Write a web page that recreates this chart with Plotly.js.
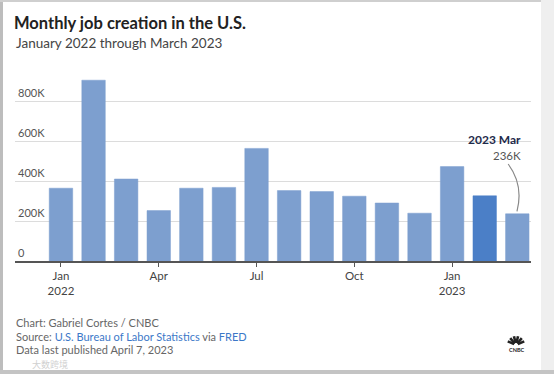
<!DOCTYPE html>
<html><head><meta charset="utf-8">
<script src="https://cdn.plot.ly/plotly-3.0.1.min.js"></script>
<style>html,body{margin:0;padding:0;background:#fff;}#c{width:554px;height:374px;}</style>
</head><body><div id="c"></div>
<script>
var months = ["Jan 2022","Feb 2022","Mar 2022","Apr 2022","May 2022","Jun 2022","Jul 2022","Aug 2022","Sep 2022","Oct 2022","Nov 2022","Dec 2022","Jan 2023","Feb 2023","Mar 2023"];
var jobs = [364000, 904000, 410000, 252000, 364000, 368000, 563000, 352000, 347000, 324000, 290000, 239000, 472000, 326000, 236000];
var tickIdx = [0, 3, 6, 9, 12];
var tickText = ["Jan<br>2022", "Apr", "Jul", "Oct", "Jan<br>2023"];
var yTicks = [0, 200000, 400000, 600000, 800000];
var yTickText = ["0", "200K", "400K", "600K", "800K"];
var highlightIdx = 13;

var W = 554, H = 374, L = 15, R = 531, T = 71, B = 261;
function px(x){ return (x - L) / (R - L); }
function py(y){ return (B - y) / (B - T); }

var xs = months.map(function(m, i){ return i; });
var colors = months.map(function(m, i){ return i === highlightIdx ? "#4b7fc7" : "#7d9fcf"; });
var last = jobs.length - 1;

var data = [{
  type: "bar", x: xs, y: jobs, marker: {color: colors, line: {color: colors, width: 0.5}},
  width: 0.72, hoverinfo: "skip"
}];

var ann = [
  {text: "January 2022 through March 2023", xref: "paper", yref: "paper", x: px(14), y: py(43), xanchor: "left", yanchor: "middle", showarrow: false, font: {family: "Lato", size: 13.5, color: "#444"}},
  {text: "Chart: Gabriel Cortes / CNBC", xref: "paper", yref: "paper", x: px(14), y: py(322), xanchor: "left", yanchor: "middle", showarrow: false, font: {family: "Lato", size: 11, color: "#666"}},
  {text: "Source: <span style='color:#3c78c8'>U.S. Bureau of Labor Statistics</span> via <span style='color:#3c78c8'>FRED</span>", xref: "paper", yref: "paper", x: px(14), y: py(336), xanchor: "left", yanchor: "middle", showarrow: false, font: {family: "Lato", size: 11, color: "#666"}},
  {text: "Data last published April 7, 2023", xref: "paper", yref: "paper", x: px(14), y: py(349), xanchor: "left", yanchor: "middle", showarrow: false, font: {family: "Lato", size: 11, color: "#666"}},
  {text: "大数跨境", xref: "paper", yref: "paper", x: px(30), y: py(364), xanchor: "left", yanchor: "middle", showarrow: false, font: {family: "Noto Sans CJK SC", size: 9, color: "#d0d0d0"}},
  {text: "<b>2023 Mar</b>", xref: "x", yref: "y", x: 14.18, y: 610000, xanchor: "right", yanchor: "middle", showarrow: false, font: {family: "Lato", size: 12, color: "#1e2a4a"}},
  {text: Math.round(jobs[last] / 1000) + "K", xref: "x", yref: "y", x: 14.18, y: 530000, xanchor: "right", yanchor: "middle", showarrow: false, font: {family: "Lato", size: 11.5, color: "#555"}},
  {text: "<b>CNBC</b>", xref: "paper", yref: "paper", x: px(516), y: py(350), xanchor: "center", yanchor: "middle", showarrow: false, font: {family: "Lato", size: 5.5, color: "#222"}}
];

var shapes = [
  {type: "path", xref: "x", yref: "y", path: "M 13.72,485000 Q 14.2,380000 13.99,248000", line: {color: "#888", width: 1.2}},
  {type: "rect", xref: "paper", yref: "paper", x0: px(0), x1: px(3), y0: py(374), y1: py(0), fillcolor: "#bdbdbd", line: {width: 0}, layer: "above"},
  {type: "rect", xref: "paper", yref: "paper", x0: px(0), x1: px(554), y0: py(2), y1: py(0), fillcolor: "#cfcfcf", line: {width: 0}, layer: "above"},
  {type: "rect", xref: "paper", yref: "paper", x0: px(541), x1: px(554), y0: py(374), y1: py(0), fillcolor: "#efefef", line: {width: 0}, layer: "above"},
  {type: "rect", xref: "paper", yref: "paper", x0: px(0), x1: px(554), y0: py(374), y1: py(370), fillcolor: "#c4c4c4", line: {width: 0}, layer: "above"}
];
var fan = [-66, -40, -13, 13, 40, 66];
fan.forEach(function(a){
  var r = a * Math.PI / 180, cx = 516, cy = 345;
  var sx = cx + 2 * Math.sin(r), sy = cy - 2 * Math.cos(r);
  var ex = cx + 9 * Math.sin(r), ey = cy - 9 * Math.cos(r);
  shapes.push({type: "line", xref: "paper", yref: "paper", x0: px(sx), y0: py(sy), x1: px(ex), y1: py(ey), line: {color: "#222", width: 2.6}, layer: "above"});
});

var layout = {
  width: W, height: H,
  margin: {l: L, r: W - R, t: T, b: H - B, pad: 0},
  paper_bgcolor: "#fff", plot_bgcolor: "#fff",
  showlegend: false,
  title: {text: "<b>Monthly job creation in the U.S.</b>", x: 14 / W, xref: "container", xanchor: "left", y: 1 - 23 / H, yref: "container", yanchor: "middle", font: {family: "Lato", size: 16.5, color: "#222"}},
  xaxis: {range: [-1.41, 14.42], tickvals: tickIdx, ticktext: tickText, showgrid: false, zeroline: false,
          showline: true, linecolor: "#555", linewidth: 1.5, ticks: "outside", ticklen: 4, tickcolor: "#555", tickwidth: 1,
          tickfont: {family: "Lato", size: 11.5, color: "#444"}, fixedrange: true},
  yaxis: {range: [0, 950000], tickvals: yTicks, ticktext: yTickText, ticklabelposition: "inside top",
          showgrid: true, gridcolor: "#dcdcdc", gridwidth: 1, zeroline: false, showline: false, ticks: "",
          tickfont: {family: "Lato", size: 11, color: "#555"}, fixedrange: true},
  bargap: 0.28,
  annotations: ann,
  shapes: shapes
};
Plotly.newPlot("c", data, layout, {displayModeBar: false, staticPlot: true});
</script></body></html>
